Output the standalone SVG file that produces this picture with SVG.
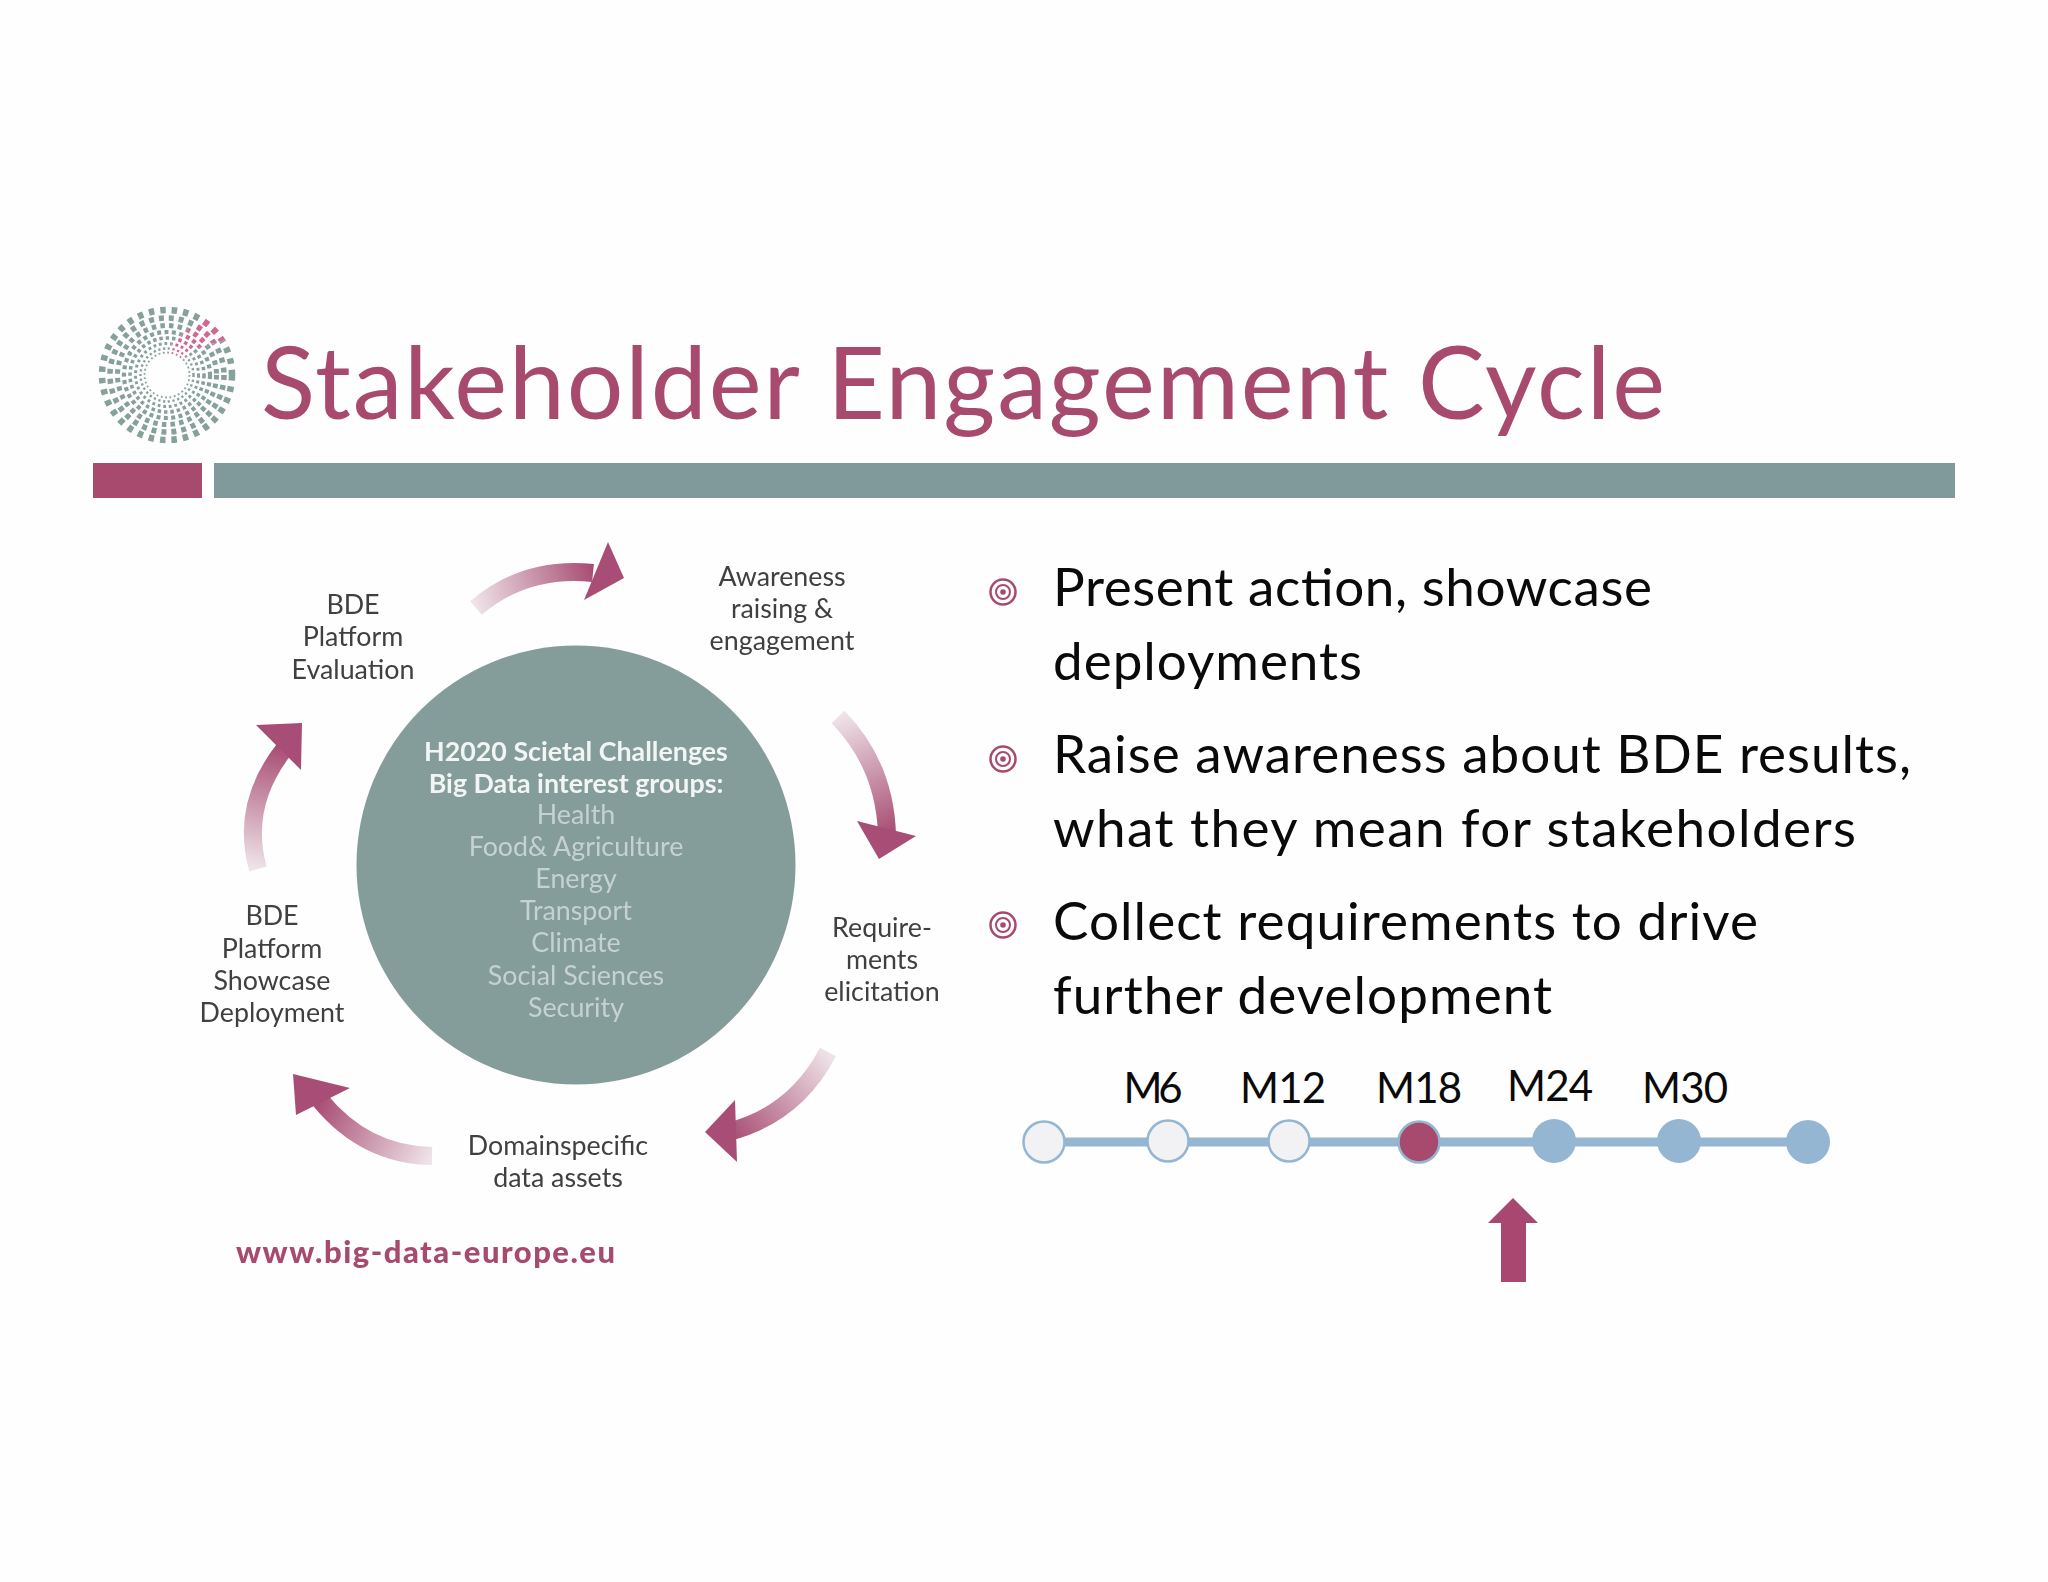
<svg xmlns="http://www.w3.org/2000/svg" width="2048" height="1582" viewBox="0 0 2048 1582">
<style>
text{font-family:"Lato","Liberation Sans",sans-serif}
.t{font-size:100px;fill:#a84a6e}
.l{font-size:26.8px;fill:#404040;text-anchor:middle}
.w{font-size:26.8px;fill:#f2f5f4;text-anchor:middle;font-weight:700}
.c{font-size:26.8px;fill:#c5d2cf;text-anchor:middle}
.b{font-size:53px;fill:#0a0a0a}
.m{font-size:42px;fill:#0a0a0a;text-anchor:middle}
.u{font-size:31px;fill:#a84a6e;font-weight:900}
.ring{fill:none;stroke:#a84a6e}
.arc{fill:none;stroke-width:18}
.head{fill:#a84e74}
.o{fill:#f2f2f4;stroke:#94b6d3;stroke-width:2.5}
.n{fill:#94b6d3}
.soft{filter:url(#s)}
</style>
<defs>
<filter id="s" x="-5%" y="-5%" width="110%" height="110%"><feGaussianBlur stdDeviation="0.55"/></filter>
<linearGradient id="g1" gradientUnits="userSpaceOnUse" x1="476" y1="608" x2="593" y2="573"><stop offset="0" stop-color="#efe3e8"/><stop offset="1" stop-color="#a84e74"/></linearGradient>
<linearGradient id="g2" gradientUnits="userSpaceOnUse" x1="838" y1="717" x2="887" y2="835"><stop offset="0" stop-color="#efe3e8"/><stop offset="1" stop-color="#a84e74"/></linearGradient>
<linearGradient id="g3" gradientUnits="userSpaceOnUse" x1="828" y1="1052" x2="728" y2="1132"><stop offset="0" stop-color="#efe3e8"/><stop offset="1" stop-color="#a84e74"/></linearGradient>
<linearGradient id="g4" gradientUnits="userSpaceOnUse" x1="432" y1="1156" x2="320" y2="1100"><stop offset="0" stop-color="#efe3e8"/><stop offset="1" stop-color="#a84e74"/></linearGradient>
<linearGradient id="g5" gradientUnits="userSpaceOnUse" x1="258" y1="869" x2="285" y2="748"><stop offset="0" stop-color="#efe3e8"/><stop offset="1" stop-color="#a84e74"/></linearGradient>
<clipPath id="pk"><polygon points="166,364 172,343 190,328 206,317 219,323 232,338 204,346 188,352 177,368"/></clipPath>
<g id="dots" fill="none">
<circle cx="167" cy="375" r="65" stroke-width="6.5" stroke-dasharray="5.5 6"/>
<circle cx="167" cy="375" r="57" stroke-width="5.5" stroke-dasharray="5 5"/>
<circle cx="167" cy="375" r="49.500" stroke-width="5" stroke-dasharray="4.500 4.200"/>
<circle cx="167" cy="375" r="43" stroke-width="4.200" stroke-dasharray="4 3.400"/>
<circle cx="167" cy="375" r="37" stroke-width="3.600" stroke-dasharray="3.400 3"/>
<circle cx="167" cy="375" r="31.500" stroke-width="3" stroke-dasharray="2.800 2.800"/>
<circle cx="167" cy="375" r="26.500" stroke-width="2.400" stroke-dasharray="2.200 2.600"/>
<circle cx="167" cy="375" r="22.500" stroke-width="1.800" stroke-dasharray="1.800 2.600"/>
</g>
</defs>
<rect width="2048" height="1582" fill="#fefefe"/>
<g id="logo" class="soft">
<use href="#dots" stroke="#86a09c"/>
<g clip-path="url(#pk)"><rect x="165" y="315" width="70" height="55" fill="#fefefe"/><use href="#dots" stroke="#d0688f"/></g>
</g>
<g id="title">
<text class="t" x="261" y="419" textLength="1404" lengthAdjust="spacing">Stakeholder Engagement Cycle</text>
<rect x="93" y="463" width="109" height="35" fill="#a84a6e"/>
<rect x="214" y="463" width="1741" height="35" fill="#80999a"/>
</g>
<g id="connectors" class="soft">
<path class="arc" stroke="url(#g1)" d="M476 608Q525 566 593 573"/>
<polygon class="head" points="608,542 624,578 584,600"/>
<path class="arc" stroke="url(#g2)" d="M838 717Q885 765 887 835"/>
<polygon class="head" points="857,821 916,836 879,859"/>
<path class="arc" stroke="url(#g3)" d="M828 1052Q795 1115 728 1132"/>
<polygon class="head" points="705,1132 735,1100 737,1162"/>
<path class="arc" stroke="url(#g4)" d="M432 1156Q365 1155 320 1100"/>
<polygon class="head" points="293,1074 350,1088 296,1115"/>
<path class="arc" stroke="url(#g5)" d="M258 869Q240 805 285 748"/>
<polygon class="head" points="302,723 256,725 301,770"/>
</g>
<g id="hub" class="soft">
<circle cx="576" cy="865" r="219.500" fill="#849d9b"/>
<text class="w" x="576" y="761">H2020 Scietal Challenges</text>
<text class="w" x="576" y="793">Big Data interest groups:</text>
<text class="c" x="576" y="824">Health</text>
<text class="c" x="576" y="856">Food&amp; Agriculture</text>
<text class="c" x="576" y="888">Energy</text>
<text class="c" x="576" y="920">Transport</text>
<text class="c" x="576" y="952">Climate</text>
<text class="c" x="576" y="985">Social Sciences</text>
<text class="c" x="576" y="1017">Security</text>
</g>
<g id="awareness" class="soft"><text class="l" x="782" y="586">Awareness</text><text class="l" x="782" y="618">raising &amp;</text><text class="l" x="782" y="650">engagement</text></g>
<g id="requirements" class="soft"><text class="l" x="882" y="937">Require-</text><text class="l" x="882" y="969">ments</text><text class="l" x="882" y="1001">elicitation</text></g>
<g id="assets" class="soft"><text class="l" x="558" y="1155">Domainspecific</text><text class="l" x="558" y="1187">data assets</text></g>
<g id="showcase" class="soft"><text class="l" x="272" y="925">BDE</text><text class="l" x="272" y="958">Platform</text><text class="l" x="272" y="990">Showcase</text><text class="l" x="272" y="1022">Deployment</text></g>
<g id="evaluation" class="soft"><text class="l" x="353" y="614">BDE</text><text class="l" x="353" y="646">Platform</text><text class="l" x="353" y="679">Evaluation</text></g>
<text class="u soft" x="236" y="1263" textLength="379" lengthAdjust="spacing">www.big-data-europe.eu</text>
<g id="bullets">
<g id="b1"><circle class="ring" cx="1003" cy="592" r="12.500" stroke-width="2.500"/><circle class="ring" cx="1003" cy="592" r="7" stroke-width="2"/><circle cx="1003" cy="592" r="2.800" fill="#a84a6e"/>
<text class="b" x="1053" y="606" textLength="599" lengthAdjust="spacing">Present action, showcase</text>
<text class="b" x="1053" y="680" textLength="309" lengthAdjust="spacing">deployments</text></g>
<g id="b2"><circle class="ring" cx="1003" cy="759" r="12.500" stroke-width="2.500"/><circle class="ring" cx="1003" cy="759" r="7" stroke-width="2"/><circle cx="1003" cy="759" r="2.800" fill="#a84a6e"/>
<text class="b" x="1053" y="773" textLength="858" lengthAdjust="spacing">Raise awareness about BDE results,</text>
<text class="b" x="1053" y="847" textLength="803" lengthAdjust="spacing">what they mean for stakeholders</text></g>
<g id="b3"><circle class="ring" cx="1003" cy="925" r="12.500" stroke-width="2.500"/><circle class="ring" cx="1003" cy="925" r="7" stroke-width="2"/><circle cx="1003" cy="925" r="2.800" fill="#a84a6e"/>
<text class="b" x="1053" y="940" textLength="705" lengthAdjust="spacing">Collect requirements to drive</text>
<text class="b" x="1053" y="1014" textLength="499" lengthAdjust="spacing">further development</text></g>
</g>
<g id="timeline">
<line x1="1044" y1="1142" x2="1807" y2="1142" stroke="#94b6d3" stroke-width="9"/>
<circle class="o" cx="1044" cy="1142" r="20.500"/>
<circle class="o" cx="1168" cy="1141" r="20.500"/>
<circle class="o" cx="1289" cy="1141" r="20.500"/>
<circle cx="1419" cy="1142" r="20.500" fill="#a84a6e" stroke="#94b6d3" stroke-width="2.500"/>
<circle class="n" cx="1554" cy="1141" r="22"/>
<circle class="n" cx="1679" cy="1141" r="22"/>
<circle class="n" cx="1808" cy="1142" r="22"/>
<text class="m" x="1153" y="1103" textLength="59" lengthAdjust="spacing">M6</text>
<text class="m" x="1283" y="1103" textLength="86" lengthAdjust="spacing">M12</text>
<text class="m" x="1419" y="1103" textLength="86" lengthAdjust="spacing">M18</text>
<text class="m" x="1550" y="1101" textLength="86" lengthAdjust="spacing">M24</text>
<text class="m" x="1685" y="1103" textLength="86" lengthAdjust="spacing">M30</text>
<polygon points="1513,1198 1538,1223 1526,1223 1526,1282 1501,1282 1501,1223 1488,1223" fill="#a8476f"/>
</g>
</svg>
